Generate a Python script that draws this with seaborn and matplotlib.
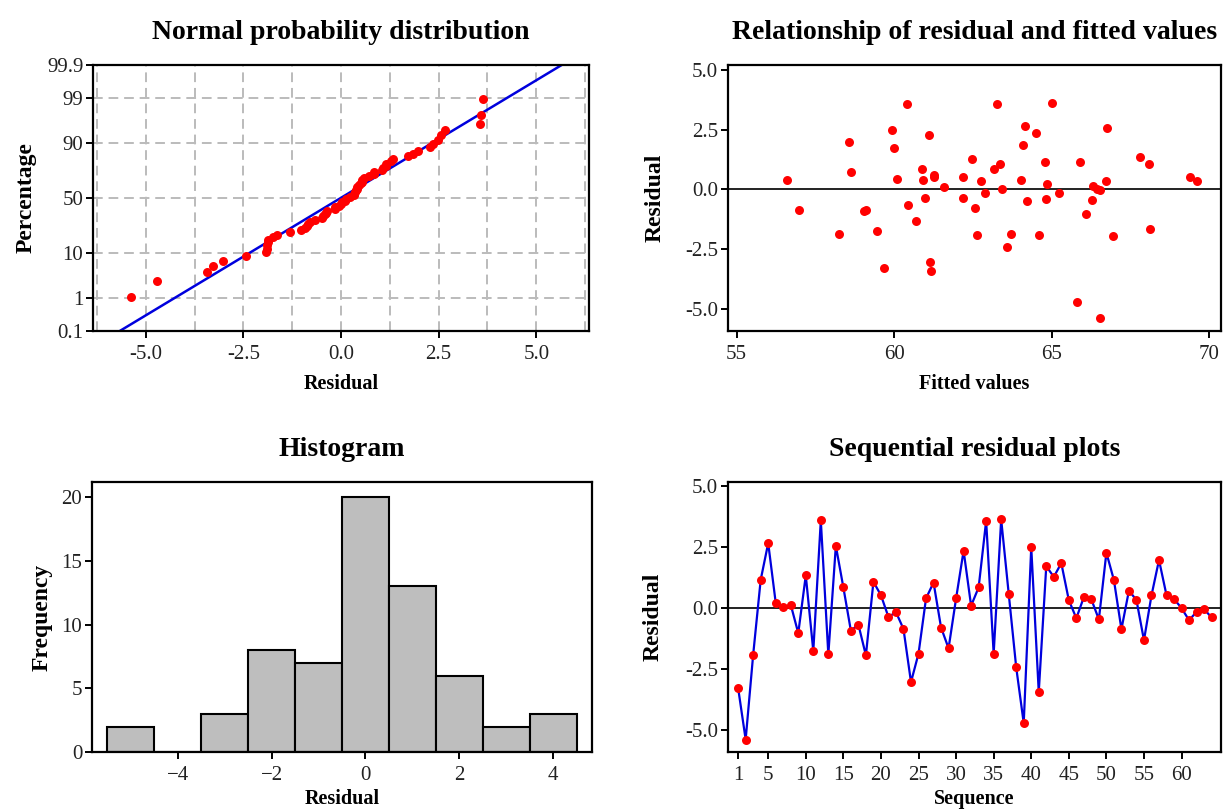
import numpy as np
import pandas as pd
import matplotlib
matplotlib.use("Agg")
import matplotlib.pyplot as plt
import seaborn as sns
from statistics import NormalDist
from matplotlib.ticker import FixedLocator, FormatStrFormatter

# ---------------- data ----------------
sequence = list(range(1, 65))
residuals = [-3.27, -5.37, -1.90, 1.16, 2.66, 0.22, 0.03, 0.14, -1.02, 1.34,
             -1.75, 3.59, -1.89, 2.55, 0.85, -0.92, -0.67, -1.93, 1.08, 0.53,
             -0.36, -0.16, -0.85, -3.02, -1.86, 0.40, 1.05, -0.79, -1.64, 0.40,
             2.35, 0.10, 0.85, 3.57, -1.86, 3.63, 0.60, -2.42, -4.70, 2.49,
             -3.43, 1.72, 1.28, 1.84, 0.33, -0.41, 0.45, 0.36, -0.46, 2.27,
             1.15, -0.86, 0.72, 0.33, -1.31, 0.52, 1.97, 0.53, 0.38, 0.00,
             -0.49, -0.15, -0.04, -0.38]
fitted = [59.68, 66.52, 62.63, 64.79, 64.14, 64.84, 63.42, 66.32, 66.10, 67.79,
          59.45, 63.25, 64.61, 66.75, 60.87, 59.05, 60.45, 66.94, 68.08, 61.25,
          62.20, 62.89, 59.11, 61.15, 58.26, 60.91, 63.37, 62.56, 68.12, 64.03,
          64.49, 61.59, 63.18, 60.42, 63.70, 65.02, 61.25, 63.58, 65.81, 59.93,
          61.17, 59.99, 62.46, 64.08, 69.60, 64.82, 60.09, 62.76, 66.27, 61.12,
          65.91, 56.99, 58.64, 66.71, 60.68, 69.40, 58.56, 62.20, 56.59, 66.44,
          64.23, 65.22, 66.52, 60.97]
prob_ticks = [0.1, 1, 10, 50, 90, 99, 99.9]
prob_labels = ["0.1", "1", "10", "50", "90", "99", "99.9"]
normal_xticks = [-5.0, -2.5, 0.0, 2.5, 5.0]
fitted_xticks = [55, 60, 65, 70]
resid_yticks = [-5.0, -2.5, 0.0, 2.5, 5.0]
hist_edges = [-5.5, -4.5, -3.5, -2.5, -1.5, -0.5, 0.5, 1.5, 2.5, 3.5, 4.5]
hist_xticks = [-4, -2, 0, 2, 4]
hist_yticks = [0, 5, 10, 15, 20]
seq_ticks = [1, 5, 10, 15, 20, 25, 30, 35, 40, 45, 50, 55, 60]

df = pd.DataFrame({"seq": sequence, "resid": residuals, "fit": fitted})

# ---------------- style ----------------
sns.set_theme(style="white")
plt.rcParams["font.family"] = ["Liberation Serif", "DejaVu Serif"]
plt.rcParams["axes.unicode_minus"] = True

W, H = 1223, 811
fig = plt.figure(figsize=(W / 100, H / 100), dpi=100)

def box(l, t, r, b):
    return [l / W, (H - b) / H, (r - l) / W, (b - t) / H]

TITLE = dict(fontsize=20, fontweight="bold", pad=19, color="black")
XLABEL = dict(fontsize=14.5, fontweight="bold", color="black")
YLABEL = dict(fontsize=17, fontweight="bold", color="black")
TICK_FS = 15
RED = "#FF0000"
BLUE = "#0000DD"

def style_axes(ax, ylab_x):
    for s in ax.spines.values():
        s.set_visible(True)
        s.set_color("black")
        s.set_linewidth(1.6)
    ax.tick_params(axis="both", which="major", direction="out", length=5,
                   width=1.4, color="black", labelsize=TICK_FS,
                   labelcolor="#222222",
                   bottom=True, left=True, top=False, right=False)
    ax.tick_params(axis="x", which="major", pad=5)
    ax.tick_params(axis="y", which="major", pad=2)
    ax.yaxis.set_label_coords(ylab_x, 0.5)

nd = NormalDist()

# ---------------- Normal probability plot ----------------
ax1 = fig.add_axes(box(93, 65, 589, 331))
sorted_res = np.sort(np.array(residuals))
n = len(sorted_res)
zpos = np.array([nd.inv_cdf((i - 0.3) / (n + 0.4)) for i in range(1, n + 1)])
mu = float(np.mean(sorted_res))
sd = float(np.std(sorted_res, ddof=1))
zline = np.array([-3.4, 3.4])
xline = mu + sd * zline
sns.lineplot(x=xline, y=zline, ax=ax1, color=BLUE, linewidth=1.8, sort=False)
sns.scatterplot(x=sorted_res, y=zpos, ax=ax1, color=RED, s=42, linewidth=0,
                zorder=3)
ztick = [nd.inv_cdf(p / 100) for p in prob_ticks]
ax1.set_ylim(ztick[0], ztick[-1])
ax1.set_xlim(-6.35, 6.35)
ax1.yaxis.set_major_locator(FixedLocator(ztick))
ax1.set_yticklabels(prob_labels)
ax1.xaxis.set_major_locator(FixedLocator(normal_xticks))
ax1.xaxis.set_major_formatter(FormatStrFormatter("%.1f"))
ax1.xaxis.set_minor_locator(FixedLocator(list(np.arange(-6.25, 6.3, 1.25))))
ax1.tick_params(axis="x", which="minor", length=0)
ax1.grid(True, which="both", axis="x", color="#BBBBBB", linestyle=(0, (5, 3)),
         linewidth=1.4)
ax1.grid(True, which="major", axis="y", color="#BBBBBB", linestyle=(0, (5, 3)),
         linewidth=1.4)
ax1.set_axisbelow(True)
ax1.set_title("Normal probability distribution", **TITLE)
ax1.set_xlabel("Residual", labelpad=7, **XLABEL)
ax1.set_ylabel("Percentage", **YLABEL)
style_axes(ax1, -0.113)

# ---------------- Residual vs fitted ----------------
ax2 = fig.add_axes(box(728, 65, 1221, 331))
sns.scatterplot(data=df, x="fit", y="resid", ax=ax2, color=RED, s=42,
                linewidth=0, zorder=3)
ax2.axhline(0, color="#222222", linewidth=1.4, zorder=2)
ax2.set_xlim(54.73, 70.37)
ax2.set_ylim(-5.92, 5.2)
ax2.xaxis.set_major_locator(FixedLocator(fitted_xticks))
ax2.yaxis.set_major_locator(FixedLocator(resid_yticks))
ax2.yaxis.set_major_formatter(FormatStrFormatter("%.1f"))
ax2.set_title("Relationship of residual and fitted values", **TITLE)
ax2.set_xlabel("Fitted values", labelpad=7, **XLABEL)
ax2.set_ylabel("Residual", **YLABEL)
style_axes(ax2, -0.126)

# ---------------- Histogram ----------------
ax3 = fig.add_axes(box(92, 482, 592, 752))
sns.histplot(x=residuals, bins=hist_edges, ax=ax3, color="#BEBEBE",
             edgecolor="black", linewidth=1.5, alpha=1.0)
ax3.set_xlim(-5.83, 4.83)
ax3.set_ylim(0, 21.2)
ax3.xaxis.set_major_locator(FixedLocator(hist_xticks))
ax3.yaxis.set_major_locator(FixedLocator(hist_yticks))
ax3.set_title("Histogram", **TITLE)
ax3.set_xlabel("Residual", labelpad=3, **XLABEL)
ax3.set_ylabel("Frequency", **YLABEL)
style_axes(ax3, -0.078)

# ---------------- Sequential residual plot ----------------
ax4 = fig.add_axes(box(728, 482, 1221, 752))
ax4.axhline(0, color="#222222", linewidth=1.4, zorder=1)
sns.lineplot(data=df, x="seq", y="resid", ax=ax4, color=BLUE, linewidth=1.6,
             zorder=2)
sns.scatterplot(data=df, x="seq", y="resid", ax=ax4, color=RED, s=42,
                linewidth=0, zorder=3)
ax4.set_xlim(-0.35, 65.25)
ax4.set_ylim(-5.88, 5.16)
ax4.xaxis.set_major_locator(FixedLocator(seq_ticks))
ax4.yaxis.set_major_locator(FixedLocator(resid_yticks))
ax4.yaxis.set_major_formatter(FormatStrFormatter("%.1f"))
ax4.set_title("Sequential residual plots", **TITLE)
ax4.set_xlabel("Sequence", labelpad=3, **XLABEL)
ax4.set_ylabel("Residual", **YLABEL)
style_axes(ax4, -0.130)

fig.savefig("out.png", dpi=100)
